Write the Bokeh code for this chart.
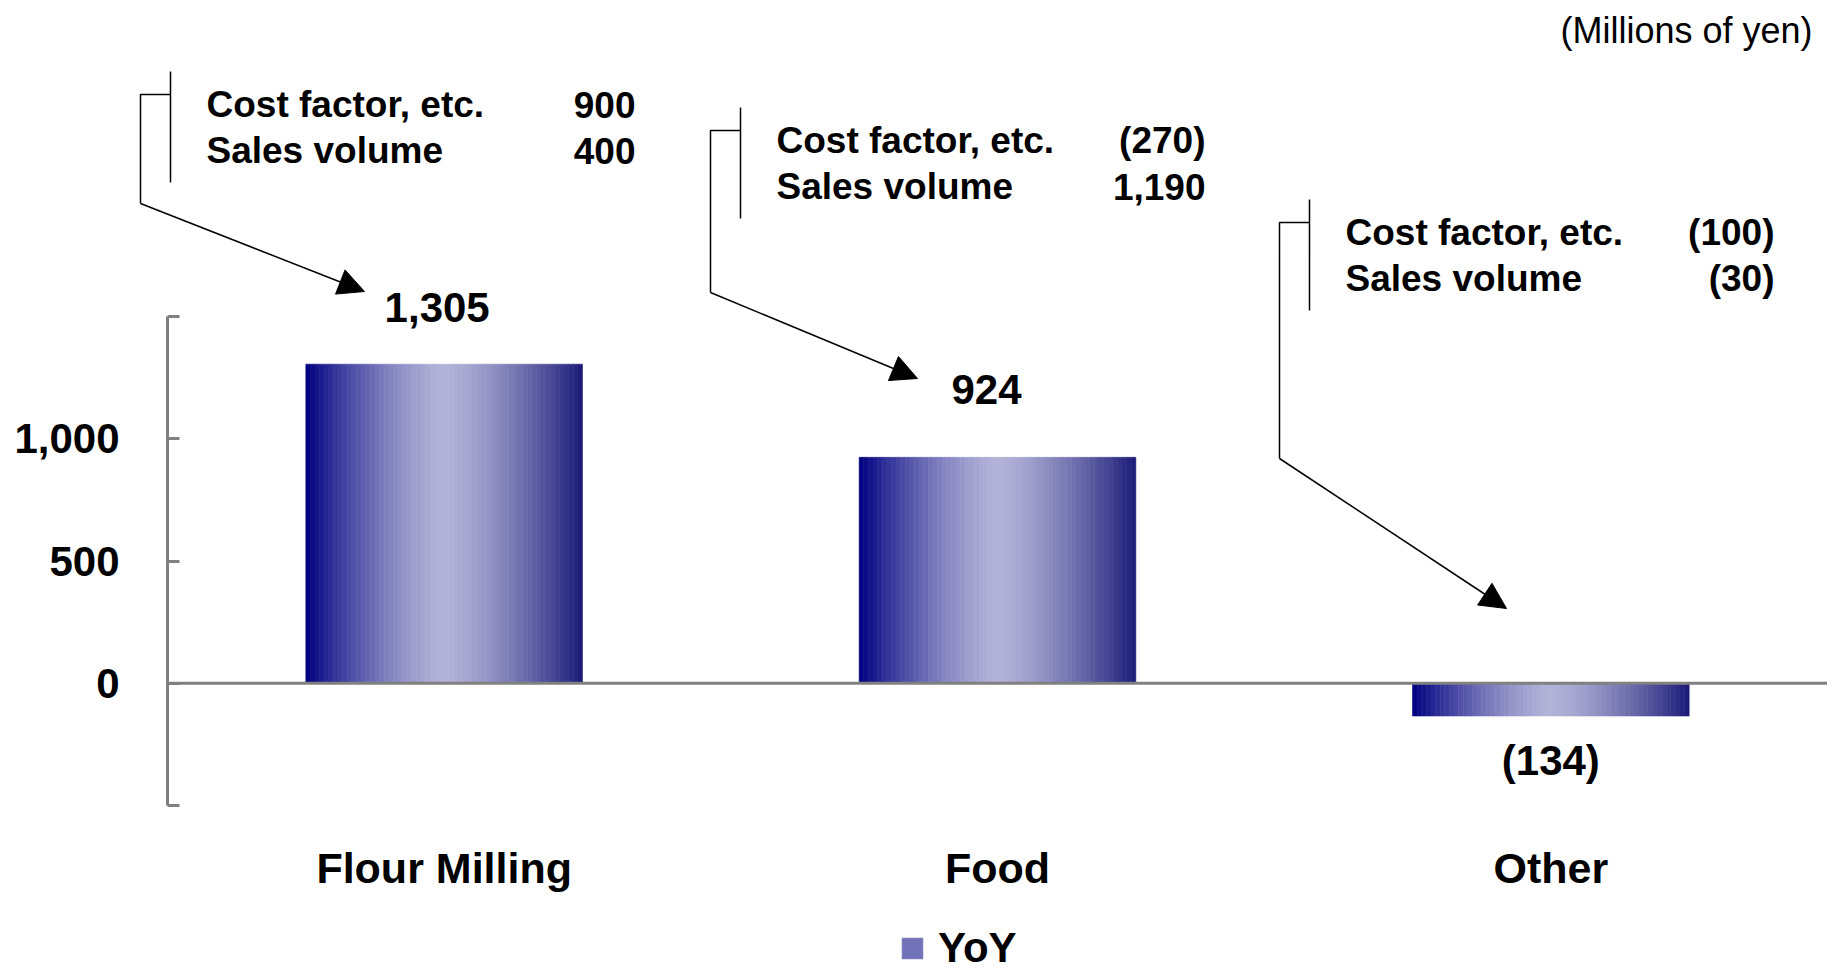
import numpy as np
from bokeh.plotting import figure
from bokeh.models import (ColumnDataSource, Range1d, FixedTicker, NumeralTickFormatter,
                          Arrow, NormalHead, Legend, LegendItem)
from bokeh.core.properties import value
from bokeh.embed import file_html
from bokeh.resources import INLINE

# ---------------- data ----------------
categories = ["Flour Milling", "Food", "Other"]
yoy = [1305, 924, -134]
cost_factor = [900, -270, -100]
sales_volume = [400, 1190, -30]
breakdown_names = ["Cost factor, etc.", "Sales volume"]
y_ticks = [-500, 0, 500, 1000, 1500]
unlabeled_ticks = [-500, 1500]
unit_note = "(Millions of yen)"
series_name = "YoY"

# ---------------- layout (pixels) ----------------
W, H = 1827, 972
X0_PX = 167.0                       # canvas x where x = 0
PPU_X = (W - X0_PX) / len(categories)
Y0_PX = 682.75                      # canvas y where y = 0
PPU_Y = 0.2445                      # px per unit
TXT_DY = -13                        # baseline correction for text glyphs


def xd(px):
    return (px - X0_PX) / PPU_X


def yd(py):
    return (Y0_PX - py) / PPU_Y


def fmt(v):
    return f"{v:,}" if v >= 0 else f"({-v:,})"


FONT = value("Liberation Sans")
AXIS_GRAY = "#808080"
BAR_WIDTH = 0.5
N_STRIPS = 60

# annotation boxes: text left, first baseline, elbow y, arrow tip (px)
boxes = [
    dict(tl=206, b1=117, elbow=203, tip=(364, 291)),
    dict(tl=776, b1=153, elbow=292, tip=(917, 378)),
    dict(tl=1345, b1=245, elbow=458, tip=(1506, 608)),
]
ROW_GAP = 46
VALUE_RIGHT = 429
label_gap_px = [44, 55, -57]     # data label baseline distance from bar end
label_dx_px = [-7, -11, 0]

p = figure(width=W, height=H, output_backend="svg", toolbar_location=None,
           x_range=Range1d(xd(0), xd(W)),
           y_range=Range1d(yd(H), yd(0)),
           x_axis_location=None,
           min_border_left=0, min_border_right=0,
           min_border_top=0, min_border_bottom=0)
p.outline_line_color = None
p.grid.visible = False
p.background_fill_color = "white"
p.border_fill_color = "white"

# ---------------- gradient bars ----------------
c_left = np.array([0, 0, 128])
c_mid = np.array([178, 178, 216])
c_right = np.array([26, 26, 120])


def grad(t):
    if t <= 0.5:
        u = t / 0.5
        s = 1 - (1 - u) ** 1.4
        c = c_left + (c_mid - c_left) * s
    else:
        u = (1 - t) / 0.5
        s = 1 - (1 - u) ** 1.4
        c = c_right + (c_mid - c_right) * s
    return "#%02x%02x%02x" % tuple(int(round(v)) for v in c)


lefts, rights, tops, bottoms, colors = [], [], [], [], []
sw = BAR_WIDTH / N_STRIPS
for i, v in enumerate(yoy):
    center = i + 0.5
    for k in range(N_STRIPS):
        l = center - BAR_WIDTH / 2 + k * sw
        lefts.append(l)
        rights.append(l + sw)
        tops.append(max(v, 0))
        bottoms.append(min(v, 0))
        colors.append(grad((k + 0.5) / N_STRIPS))

bar_src = ColumnDataSource(dict(left=lefts, right=rights, top=tops,
                                bottom=bottoms, color=colors))
bars = p.quad(left="left", right="right", top="top", bottom="bottom",
              fill_color="color", line_color="color", line_width=0.6,
              source=bar_src)

# zero line and y axis line
p.segment(x0=[0], x1=[len(categories)], y0=[0], y1=[0],
          line_color=AXIS_GRAY, line_width=3)
p.segment(x0=[0], x1=[0], y0=[y_ticks[0]], y1=[y_ticks[-1]],
          line_color=AXIS_GRAY, line_width=3)

# y axis (drawn at x = 0 inside the canvas)
ya = p.yaxis[0]
ya.fixed_location = 0
ya.ticker = FixedTicker(ticks=y_ticks)
ya.formatter = NumeralTickFormatter(format="0,0")
ya.major_label_overrides = {t: "" for t in unlabeled_ticks}
ya.axis_line_color = None
ya.major_tick_line_color = AXIS_GRAY
ya.major_tick_line_width = 3
ya.major_tick_in = 12
ya.major_tick_out = 0
ya.minor_tick_line_color = None
ya.major_label_standoff = 48
ya.major_label_text_font = "Liberation Sans"
ya.major_label_text_font_style = "bold"
ya.major_label_text_font_size = "42px"
ya.major_label_text_color = "black"

# data labels
lx = [i + 0.5 + label_dx_px[i] / PPU_X for i in range(len(yoy))]
ly = [v + (label_gap_px[i] - TXT_DY) / PPU_Y for i, v in enumerate(yoy)]
p.text(x=lx, y=ly, text=[fmt(v) for v in yoy], text_font=FONT,
       text_font_style="bold", text_font_size="42px", text_color="black",
       text_align="center", text_baseline="alphabetic")

# category labels
p.text(x=[i + 0.5 for i in range(len(categories))],
       y=[yd(880 + TXT_DY)] * len(categories),
       text=categories, text_font=FONT, text_font_style="bold",
       text_font_size="43px", text_color="black", text_align="center",
       text_baseline="alphabetic")

# unit note
p.text(x=[xd(1812)], y=[yd(37 - 7)], text=[unit_note], text_font=FONT,
       text_font_size="36px", text_color="black", text_align="right",
       text_baseline="alphabetic")

# breakdown annotation boxes
name_x, name_y, name_t = [], [], []
val_x, val_y, val_t = [], [], []
line_xs, line_ys = [], []
for i, b in enumerate(boxes):
    vals = [cost_factor[i], sales_volume[i]]
    for r in range(2):
        base = b["b1"] + r * ROW_GAP + TXT_DY
        name_x.append(xd(b["tl"]))
        name_y.append(yd(base))
        name_t.append(breakdown_names[r])
        val_x.append(xd(b["tl"] + VALUE_RIGHT))
        val_y.append(yd(base))
        val_t.append(fmt(vals[r]))
    vline = b["tl"] - 36
    stub_x = vline - 30
    stub_y = b["b1"] - 23
    line_xs.append([xd(vline), xd(vline)])
    line_ys.append([yd(b["b1"] - 46), yd(b["b1"] + ROW_GAP + 19)])
    line_xs.append([xd(vline), xd(stub_x), xd(stub_x)])
    line_ys.append([yd(stub_y), yd(stub_y), yd(b["elbow"])])
    p.add_layout(Arrow(x_start=xd(stub_x), y_start=yd(b["elbow"]),
                       x_end=xd(b["tip"][0]), y_end=yd(b["tip"][1]),
                       line_color="black", line_width=1.5,
                       end=NormalHead(size=26, fill_color="black",
                                      line_color="black", line_width=1)))

p.multi_line(xs=line_xs, ys=line_ys, line_color="black", line_width=1.5)
p.text(x=name_x, y=name_y, text=name_t, text_font=FONT, text_font_style="bold",
       text_font_size="37px", text_color="black", text_align="left",
       text_baseline="alphabetic")
p.text(x=val_x, y=val_y, text=val_t, text_font=FONT, text_font_style="bold",
       text_font_size="37px", text_color="black", text_align="right",
       text_baseline="alphabetic")

# legend
legend = Legend(items=[LegendItem(label=series_name, renderers=[bars],
                                  index=N_STRIPS // 4)],
                location=(899, 0), orientation="horizontal",
                padding=0, margin=0, spacing=0,
                glyph_width=26, glyph_height=26, label_standoff=13,
                border_line_color=None, background_fill_alpha=0,
                label_text_font="Liberation Sans", label_text_font_style="bold",
                label_text_font_size="42px", label_text_color="black")
p.add_layout(legend)

open("out.html", "w").write(file_html(p, INLINE))
